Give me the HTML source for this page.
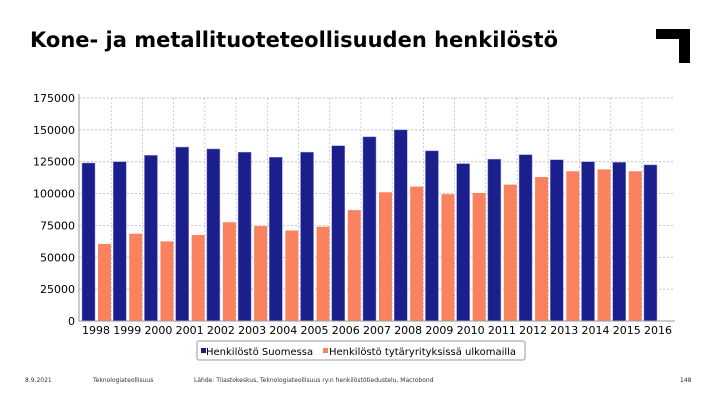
<!DOCTYPE html>
<html><head><meta charset="utf-8"><style>
body{margin:0;width:720px;height:405px;background:#fff;font-family:"DejaVu Sans","Liberation Sans",sans-serif;overflow:hidden;position:relative}
.title{position:absolute;left:30px;top:28px;font-family:"DejaVu Sans",sans-serif;font-weight:bold;font-size:21px;color:#000;white-space:nowrap}
.foot{position:absolute;top:377px;font-size:6px;color:#333}
</style></head><body>
<div class="title">Kone- ja metallituoteteollisuuden henkilöstö</div>
<div style="position:absolute;left:656px;top:29px;width:34px;height:10px;background:#000"></div>
<div style="position:absolute;left:679px;top:29px;width:11px;height:34px;background:#000"></div>
<svg id="chart" width="720" height="405" style="position:absolute;left:0;top:0"></svg>
<div class="foot" style="left:25px">8.9.2021</div>
<div class="foot" style="left:93px">Teknologiateollisuus</div>
<div class="foot" style="left:194px">Lähde: Tilastokeskus, Teknologiateollisuus ry:n henkilöstötiedustelu, Macrobond</div>
<div class="foot" style="left:680px">148</div>
<script>
const years=["1998","1999","2000","2001","2002","2003","2004","2005","2006","2007","2008","2009","2010","2011","2012","2013","2014","2015","2016"];
const finland=[124000,125000,130000,136500,135000,132500,128500,132500,137500,144500,150000,133500,123500,127000,130500,126500,125000,124500,122500];
const abroad=[60500,68500,62500,67500,77500,74500,71000,74000,87000,101000,105500,99500,100500,107000,113000,117500,119000,117500,null];
const yTicks=[0,25000,50000,75000,100000,125000,150000,175000];
const NS="http://www.w3.org/2000/svg";
const svg=document.getElementById('chart');
const x0=79,x1=675,y0=321,yTop=98,step=31.22,gStart=80;
const y=v=>y0-v/175000*(y0-yTop);
const gx=i=>gStart+i*step;
function mk(t,a){const e=document.createElementNS(NS,t);for(const k in a)e.setAttribute(k,a[k]);svg.appendChild(e);return e;}
yTicks.forEach(v=>{
 if(v>0){const l=mk('line',{x1:x0,x2:x1,y1:y(v),y2:y(v),stroke:'#aaa','stroke-dasharray':'2,2','stroke-width':0.7});
 }
 const t=mk('text',{x:x0-4,y:y(v)+4,'text-anchor':'end','font-size':11,fill:'#000','font-family':'DejaVu Sans,sans-serif'});
 t.textContent=v;
});
years.forEach((yr,i)=>{
 if(i>0){const l=mk('line',{x1:gx(i),x2:gx(i),y1:yTop,y2:y0,stroke:'#bbb','stroke-dasharray':'2,2','stroke-width':0.7});
 }
 const b=mk('rect',{x:gx(i)+2,y:y(finland[i]),width:13,height:y0-y(finland[i]),fill:'#1a1f8c',stroke:'#8a8fd8','stroke-width':0.5});
 
 if(abroad[i]!=null){const o=mk('rect',{x:gx(i)+18,y:y(abroad[i]),width:13,height:y0-y(abroad[i]),fill:'#fa825f'});
 }
 const t=mk('text',{x:gx(i)+16,y:y0+13,'text-anchor':'middle','font-size':11,fill:'#000','font-family':'DejaVu Sans,sans-serif'});
 t.textContent=yr;
});
const ax=mk('line',{x1:x0,x2:x0,y1:yTop-4,y2:y0,stroke:'#999'});
const bx=mk('line',{x1:x0,x2:x1,y1:y0,y2:y0,stroke:'#999'});
const lg=mk('rect',{x:197,y:341,width:328,height:19,rx:2,fill:'#fff',stroke:'#999'});
const s1=mk('rect',{x:201,y:348,width:5,height:5,fill:'#1a1f8c'});
const t1=mk('text',{x:206,y:355,'font-size':10,'font-family':'DejaVu Sans,sans-serif'});t1.textContent='Henkilöstö Suomessa';
const s2=mk('rect',{x:323,y:348,width:5,height:5,fill:'#fa825f'});
const t2=mk('text',{x:329,y:355,'font-size':10,'font-family':'DejaVu Sans,sans-serif'});t2.textContent='Henkilöstö tytäryrityksissä ulkomailla';
</script>
</body></html>
